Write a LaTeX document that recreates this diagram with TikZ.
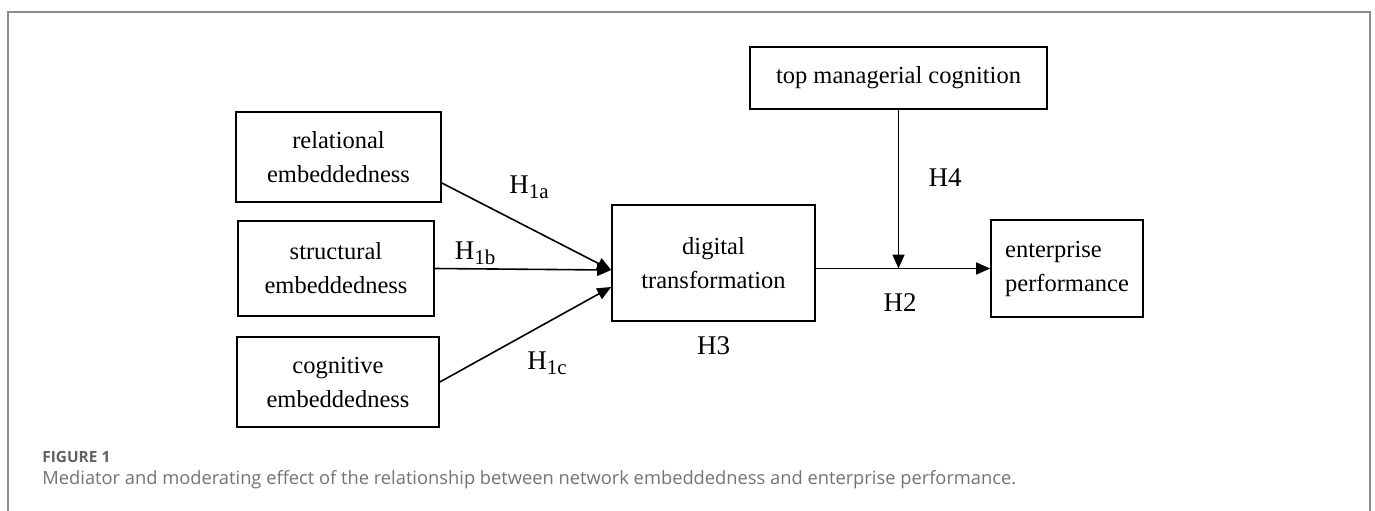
\documentclass[tikz,border=0pt]{standalone}
\usepackage{fontspec}
\setmainfont{Liberation Serif}
\newfontfamily\capfont{Open Sans}
\usetikzlibrary{arrows.meta,positioning,calc}
\tikzset{%
  box/.style={draw,line width=0.85pt,align=center,inner sep=2pt,font=\fontsize{12.25}{17}\selectfont},
  arrow/.style={-{Triangle[length=7pt,width=6pt]}, line width=0.8pt},
  hlabel/.style={font=\fontsize{13.5}{14}\selectfont,inner sep=1pt}%
}
\newcommand{\hsub}[1]{H\raisebox{-2.5pt}{\fontsize{10.5}{11}\selectfont #1}}

\begin{document}
\begin{tikzpicture}[x=0.5pt,y=-0.5pt]
\useasboundingbox (0,0) rectangle (1375,510);

% Outer frame (open at the bottom)
\draw[draw=black!45, line width=1pt] (8,530) -- (8,12) -- (1370,12) -- (1370,530);

% Embeddedness dimensions
\node[box, minimum width=102.5pt, minimum height=45pt] (rel) at (338.5,157) {relational\\embeddedness};
\node[box, minimum width=98pt, minimum height=47.5pt] (str) at (336,268.5) {structural\\embeddedness};
\node[box, minimum width=101pt, minimum height=45pt] (cog) at (338,382) {cognitive\\embeddedness};

% Mediator, moderator and outcome
\node[box, minimum width=101.5pt, minimum height=58pt] (dig) at (713.5,263) {digital\\transformation};
\node[box, minimum width=148.5pt, minimum height=31pt] (top) at (898.5,78) {top managerial cognition};
\node[box, align=left, minimum width=76pt, minimum height=48.5pt] (ent) at (1067,268.5) {enterprise\\performance};

% Paths into digital transformation
\draw[arrow] ([yshift=-13pt]rel.east) -- ([yshift=-3.5pt]dig.west);
\draw[arrow] (str.east) -- ([yshift=-3.5pt]dig.west);
\draw[arrow] (cog.east) -- ([yshift=-12pt]dig.west);

% Main effect and moderation
\coordinate (join) at (top.south |- ent.west);
\draw[arrow] (ent.west -| dig.east) -- (ent.west);
\draw[arrow] (top.south) -- (join);

% Hypothesis labels
\node[hlabel] (h1a) at (529,187) {\hsub{1a}};
\node[hlabel] (h1b) at (475,253) {\hsub{1b}};
\node[hlabel] (h1c) at (547,363) {\hsub{1c}};
\node[hlabel] (h2) at (900,303) {H2};
\node[hlabel, below=6pt of dig] (h3) {H3};
\node[hlabel] (h4) at (945,178) {H4};

% Caption
\node[anchor=west, inner sep=0pt, text=black!62, font=\capfont\bfseries\fontsize{7.7}{9}\selectfont] (fig) at (42,457) {FIGURE 1};
\node[anchor=west, inner sep=0pt, text=black!55, font=\capfont\fontsize{9.15}{11}\selectfont] (cap) at (42,480) {Mediator and moderating effect of the relationship between network embeddedness and enterprise performance.};

\end{tikzpicture}
\end{document}
